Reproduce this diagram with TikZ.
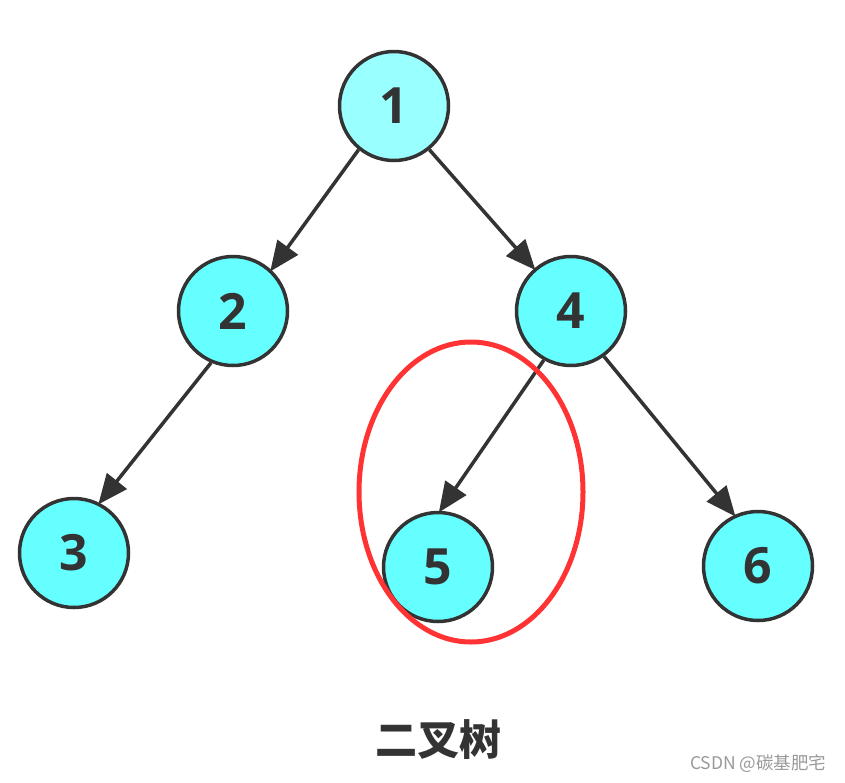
\documentclass[tikz,border=0pt]{standalone}
\usepackage{fontspec}
\setmainfont{Open Sans}
\newfontfamily\cjkfont{Noto Sans CJK SC}
\usetikzlibrary{arrows.meta}
\definecolor{edgegray}{HTML}{333333}
\definecolor{nodecyan}{HTML}{66FFFF}
\definecolor{rootcyan}{HTML}{99FFFF}
\definecolor{markred}{HTML}{FF3333}
\definecolor{wmgray}{HTML}{999999}
\tikzset{
  treenode/.style={circle, draw=edgegray, line width=3.5pt, fill=nodecyan,
    minimum size=109pt, inner sep=0pt, text=edgegray,
    font=\fontsize{50}{50}\selectfont\bfseries},
  treeedge/.style={draw=edgegray, line width=3.5pt,
    -{Triangle[length=30pt,width=25pt]}, shorten >=-2pt},
}
\begin{document}
\begin{tikzpicture}[x=1pt,y=-1pt]
\useasboundingbox (0,0) rectangle (845,782);
\node[treenode, fill=rootcyan] (n1) at (394,106) {1};
\node[treenode] (n2) at (233,311) {2};
\node[treenode] (n4) at (571,311) {4};
\node[treenode] (n3) at (74,553) {3};
\node[treenode] (n5) at (438,567) {5};
\node[treenode] (n6) at (758,566) {6};
\draw[treeedge] (n1.231) -- (n2.47);
\draw[treeedge] (n1.-51) -- (n4.131);
\draw[treeedge] (n2.247) -- (n3.63);
\draw[treeedge] (n4.241) -- (n5.88);
\draw[treeedge] (n4.-54) -- (n6.115);
\draw[markred, line width=5pt] (471,492) ellipse [x radius=112, y radius=150];
\node[text=edgegray, font=\cjkfont\fontsize{42}{42}\selectfont\bfseries] (title) at (438,740) {二叉树};
\node[text=wmgray, font=\cjkfont\fontsize{17.5}{17.5}\selectfont, anchor=east] (wm) at (830,764) {CSDN @碳基肥宅};
\end{tikzpicture}
\end{document}
